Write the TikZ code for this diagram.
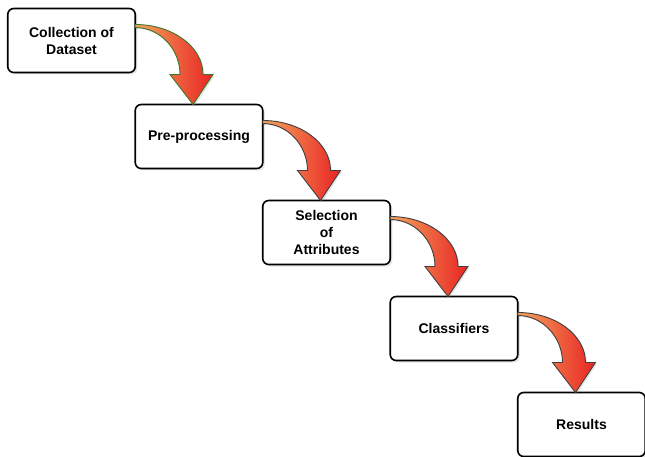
\documentclass[tikz,border=0pt]{standalone}
\usepackage{fontspec}
\setmainfont{Liberation Sans}
\usetikzlibrary{positioning,calc,shadows}
\definecolor{flowlight}{RGB}{244,164,92}
\definecolor{flowdark}{RGB}{232,36,36}
\definecolor{flowgreen}{RGB}{62,118,40}
\tikzset{
  stage/.style={draw, line width=1.6pt, rounded corners=6pt, fill=white, outer sep=0pt,
    minimum width=127.5pt, minimum height=64pt, align=center,
    font=\bfseries\fontsize{14}{17}\selectfont,
    drop shadow={shadow xshift=2pt, shadow yshift=-2pt, opacity=0.2}},
  flow/.style={line width=0.9pt, left color=flowlight, right color=flowdark,
    drop shadow={shadow xshift=1.5pt, shadow yshift=-1.5pt, opacity=0.2}}
}
% curved block arrow from the top of #1's right side onto the top of #2
\newcommand{\flowarrow}[3]{%
  \coordinate (S) at ($(#1.north east)+(0,-16pt)$); \coordinate (T) at ($(#2.north)+(-6pt,0)$);
  \path[flow, draw=#3] (S) .. controls ($(S)+(37pt,0)$) and ($(T)+(10pt,58pt)$) .. ($(T)+(10pt,30pt)$)
    -- ($(T)+(20pt,30pt)$) -- (T) -- ($(T)+(-23pt,30pt)$) -- ($(T)+(-13pt,30pt)$)
    .. controls ($(T)+(-13pt,55pt)$) and ($(S)+(25pt,-3pt)$) .. ($(S)+(0,-3pt)$) -- cycle;}
\begin{document}
\begin{tikzpicture}[x=1pt, y=1pt]
    \useasboundingbox (0,0) rectangle (645,-457);
    \node[stage] (a) at (71.5,-40.5) {Collection of\\Dataset};
    \node[stage, below right=32pt and 0pt of a] (b) {Pre-processing};
    \node[stage, below right=32pt and 0pt of b] (c) {Selection\\of\\Attributes};
    \node[stage, below right=32pt and 0pt of c] (d) {Classifiers};
    \node[stage, below right=32pt and 0pt of d] (e) {Results};
    \foreach \u/\v/\c in {a/b/flowgreen, b/c/black!75, c/d/black!75, d/e/black!75} \flowarrow{\u}{\v}{\c};
\end{tikzpicture}
\end{document}
